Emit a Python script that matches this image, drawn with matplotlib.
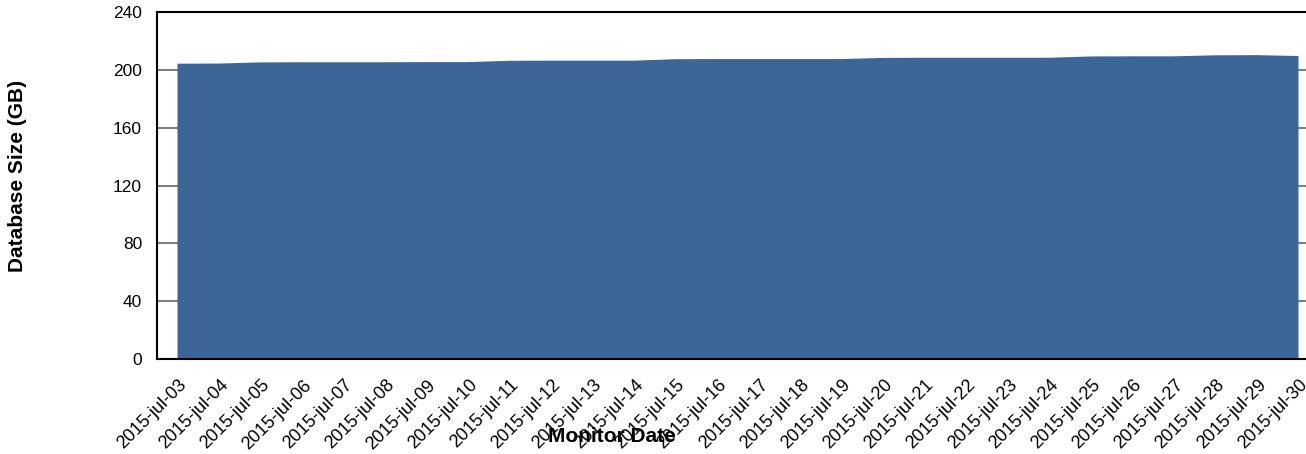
import matplotlib.pyplot as plt
import matplotlib.transforms as mtransforms
import numpy as np

plt.rcParams['font.family'] = ['Liberation Sans', 'DejaVu Sans']

dates = ['2015-jul-%02d' % d for d in range(3, 31)]
sizes = [204.6, 204.7, 205.5, 205.6, 205.6, 205.6, 205.7, 205.7,
         206.6, 206.7, 206.7, 206.7, 207.7, 207.8, 207.8, 207.8,
         207.8, 208.6, 208.7, 208.7, 208.7, 208.7, 209.6, 209.7,
         209.7, 210.4, 210.5, 209.9]
y_ticks = [0, 40, 80, 120, 160, 200, 240]

fig = plt.figure(figsize=(13.06, 4.54), dpi=100)
ax = fig.add_axes([157 / 1306, 1 - 359 / 454, 1 - 157 / 1306, 347 / 454])

x = np.arange(len(dates))
ax.fill_between(x, 0, sizes, color='#3c6697', linewidth=0, zorder=2)

ax.set_xlim(-20 / 41.52, len(dates) - 1 + 8 / 41.52)
ax.set_ylim(0, 240)
ax.set_yticks(y_ticks)
ax.set_yticklabels([str(v) for v in y_ticks], fontsize=12.5)
ax.set_xticks(x)
ax.set_xticklabels(dates, rotation=45, ha='right', va='center',
                   rotation_mode='anchor', fontsize=13)
ax.tick_params(axis='both', length=0)
ax.tick_params(axis='y', pad=10.8)
ax.tick_params(axis='x', pad=17)
shift = mtransforms.ScaledTranslation(0.07, 0, fig.dpi_scale_trans)
for lbl in ax.get_xticklabels():
    lbl.set_transform(lbl.get_transform() + shift)
ax.grid(axis='y', color='#808080', linewidth=1.5, zorder=1)
ax.set_axisbelow(True)

for side in ['left', 'top', 'bottom']:
    ax.spines[side].set_linewidth(1.5)
    ax.spines[side].set_color('black')
ax.spines['right'].set_visible(False)

fig.text(612 / 1306, 1 - 436 / 454, 'Monitor Date', ha='center', va='center',
         fontsize=15, fontweight='bold')
fig.text(18 / 1306, 1 - 176 / 454, 'Database Size (GB)', ha='center', va='center',
         rotation=90, fontsize=15, fontweight='bold')

fig.savefig('out.png', dpi=100)
